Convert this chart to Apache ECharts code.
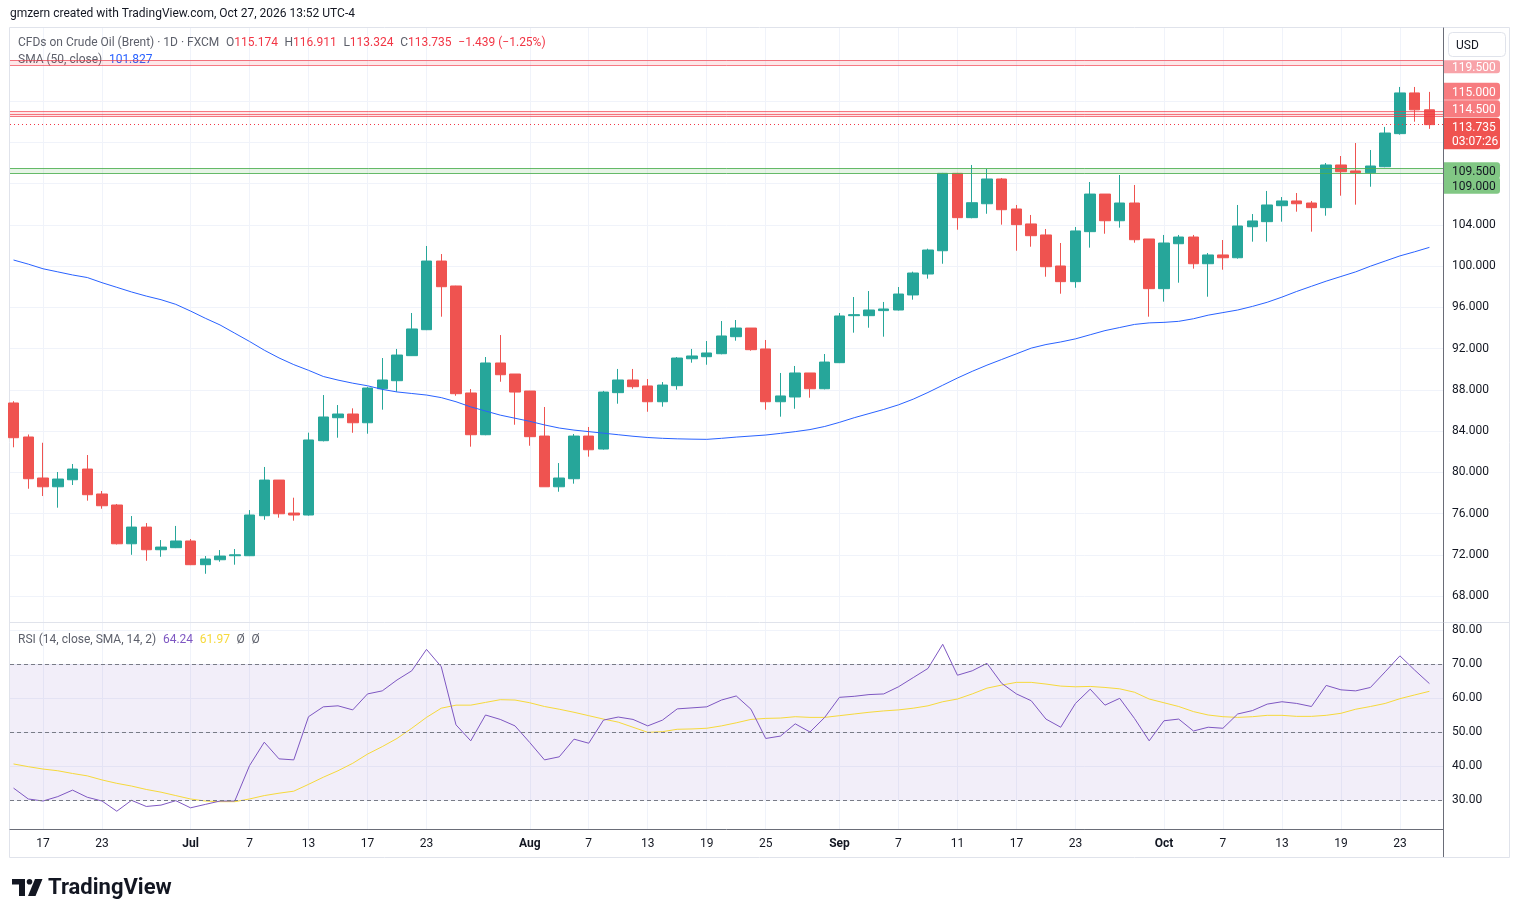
<!DOCTYPE html>
<html>
<head>
<meta charset="utf-8">
<title>CFDs on Crude Oil (Brent) · 1D · FXCM</title>
<script src="https://cdn.jsdelivr.net/npm/echarts@6/dist/echarts.min.js"></script>
<style>
  html, body { margin: 0; padding: 0; background: #ffffff; }
  #chart { width: 1519px; height: 917px; }
</style>
</head>
<body>
<div id="chart"></div>
<script>
/* global echarts */

// daily bars, Jun 15 .. Oct 27 2026 (weekdays), index = bar number
const opens = [
  86.73, 83.43, 79.45, 78.60, 79.28, 80.32, 77.90, 76.83, 73.07, 74.69,
  72.49, 72.69, 73.34, 71.04, 71.52, 71.91, 71.91, 75.79, 79.25, 76.05,
  75.86, 83.07, 85.30, 85.66, 84.81, 88.11, 88.89, 91.32, 93.84, 100.50,
  98.08, 87.70, 83.65, 90.61, 89.54, 87.89, 83.52, 78.60, 79.38, 83.52,
  82.26, 87.73, 88.96, 88.38, 86.85, 88.41, 91.02, 91.22, 91.51, 93.16,
  94.00, 91.97, 86.85, 87.31, 89.64, 88.11, 90.64, 95.20, 95.20, 95.69,
  95.75, 97.21, 99.24, 101.50, 109.01, 104.71, 106.06, 108.46, 105.55, 104.10,
  103.03, 100.02, 98.50, 103.35, 107.00, 104.41, 106.13, 102.64, 97.82, 102.18,
  102.83, 100.24, 101.09, 100.82, 103.83, 104.32, 105.87, 106.33, 106.13, 105.68,
  109.82, 109.24, 109.07, 109.65, 112.86, 116.81, 115.174
];
const closes = [
  83.36, 79.38, 78.60, 79.35, 80.32, 77.83, 76.76, 73.07, 74.69, 72.49,
  72.75, 73.34, 71.04, 71.59, 71.88, 72.00, 75.86, 79.25, 75.98, 75.86,
  83.14, 85.37, 85.66, 84.81, 88.18, 88.96, 91.38, 93.91, 100.50, 98.01,
  87.63, 83.65, 90.61, 89.47, 87.79, 83.46, 78.60, 79.45, 83.52, 82.19,
  87.79, 88.96, 88.31, 86.85, 88.47, 91.09, 91.29, 91.58, 93.23, 94.00,
  91.90, 86.85, 87.41, 89.64, 88.11, 90.70, 95.17, 95.30, 95.75, 95.85,
  97.30, 99.34, 101.57, 109.01, 104.71, 106.16, 108.46, 105.48, 104.03, 102.96,
  99.95, 98.50, 103.42, 107.00, 104.41, 106.13, 102.57, 97.82, 102.25, 102.83,
  100.24, 101.09, 100.82, 103.90, 104.39, 105.94, 106.33, 106.06, 105.68, 109.82,
  109.17, 109.07, 109.72, 112.92, 116.81, 115.17, 113.735
];
const lows = [
  82.43, 78.41, 77.70, 76.57, 78.77, 77.25, 76.47, 73.00, 72.00, 71.42,
  71.81, 72.65, 71.00, 70.16, 71.33, 71.04, 71.88, 75.40, 75.60, 75.31,
  75.80, 83.00, 83.36, 83.84, 83.75, 86.08, 87.82, 91.30, 93.80, 95.10,
  87.43, 82.49, 83.60, 88.79, 84.62, 82.58, 78.60, 78.12, 78.90, 81.52,
  82.20, 86.66, 88.11, 85.88, 86.37, 88.02, 90.64, 90.44, 91.45, 92.77,
  91.80, 86.08, 85.40, 86.17, 87.24, 88.05, 90.60, 93.55, 94.03, 93.16,
  95.70, 96.75, 98.79, 100.24, 103.54, 104.65, 105.09, 104.03, 101.50, 101.89,
  98.98, 97.33, 97.91, 101.80, 103.15, 103.74, 102.28, 95.10, 96.56, 98.40,
  99.76, 97.04, 99.66, 100.73, 102.38, 102.38, 104.32, 105.29, 103.35, 104.90,
  106.84, 105.97, 107.71, 109.60, 112.76, 114.02, 113.324
];
const highs = [
  86.90, 83.67, 82.87, 80.03, 80.81, 81.68, 78.19, 76.93, 75.76, 75.08,
  73.43, 74.80, 73.53, 71.88, 72.46, 72.56, 76.34, 80.52, 79.25, 77.54,
  83.85, 87.50, 86.53, 86.21, 88.30, 91.09, 91.97, 95.46, 101.96, 101.18,
  98.10, 88.08, 91.19, 93.32, 89.54, 87.90, 86.34, 80.90, 83.72, 84.40,
  87.90, 90.03, 90.03, 89.05, 88.76, 91.19, 91.97, 92.74, 94.68, 94.78,
  94.00, 92.84, 89.64, 90.32, 89.64, 91.48, 95.46, 97.01, 97.59, 96.53,
  97.98, 99.47, 101.70, 109.05, 109.05, 109.82, 109.43, 108.56, 105.94, 104.97,
  103.61, 102.25, 103.80, 108.17, 107.00, 108.85, 107.88, 102.64, 103.03, 103.03,
  103.03, 101.28, 102.54, 105.94, 105.06, 107.30, 106.71, 107.10, 106.33, 110.01,
  110.69, 111.95, 111.27, 113.51, 117.39, 117.39, 116.911
];
const sma50 = [
  100.60, 100.20, 99.75, 99.45, 99.15, 98.90, 98.40, 97.95, 97.50, 97.10,
  96.75, 96.30, 95.65, 94.95, 94.30, 93.50, 92.70, 91.85, 91.10, 90.45,
  89.90, 89.30, 88.95, 88.65, 88.40, 88.05, 87.80, 87.65, 87.50, 87.25,
  86.85, 86.35, 85.95, 85.55, 85.25, 84.95, 84.60, 84.30, 84.10, 83.95,
  83.80, 83.65, 83.50, 83.38, 83.30, 83.25, 83.22, 83.20, 83.30, 83.42,
  83.52, 83.62, 83.78, 83.95, 84.15, 84.45, 84.85, 85.30, 85.70, 86.10,
  86.55, 87.10, 87.75, 88.45, 89.15, 89.80, 90.40, 90.95, 91.50, 92.05,
  92.40, 92.65, 92.95, 93.35, 93.75, 94.05, 94.35, 94.50, 94.55, 94.65,
  94.90, 95.25, 95.50, 95.75, 96.10, 96.50, 97.00, 97.55, 98.05, 98.55,
  99.00, 99.45, 100.00, 100.50, 101.00, 101.40, 101.827
];
const rsi = [
  33.5, 30.3, 29.7, 31.0, 32.9, 30.8, 29.7, 26.7, 29.9, 28.1,
  28.5, 29.8, 27.7, 28.7, 29.7, 29.7, 40.1, 47.0, 42.1, 41.8,
  54.5, 57.4, 57.7, 56.5, 61.2, 62.1, 65.3, 68.0, 74.3, 69.2,
  52.1, 47.4, 55.0, 53.7, 51.8, 46.9, 41.8, 42.7, 47.9, 46.7,
  53.5, 54.4, 53.7, 51.8, 53.5, 56.8, 57.1, 57.4, 59.4, 60.6,
  56.7, 48.1, 48.8, 52.4, 50.0, 54.3, 60.2, 60.5, 61.0, 61.2,
  63.3, 66.0, 68.7, 75.8, 66.7, 68.0, 70.2, 64.3, 61.2, 59.2,
  53.8, 51.4, 58.4, 62.6, 57.9, 59.9, 54.0, 47.4, 53.3, 53.8,
  50.3, 51.4, 51.1, 55.3, 56.3, 58.2, 58.9, 58.4, 57.5, 63.7,
  62.4, 62.1, 63.1, 67.7, 72.4, 68.2, 64.24
];
const rsiMa = [
  40.6, 39.8, 39.1, 38.6, 37.8, 37.1, 35.9, 34.9, 34.1, 33.1,
  32.3, 31.3, 30.3, 29.7, 29.5, 29.5, 30.3, 31.3, 32.0, 32.6,
  34.6, 36.7, 38.6, 40.8, 43.5, 45.7, 48.1, 51.1, 54.3, 57.0,
  57.9, 57.9, 58.7, 59.5, 59.4, 58.6, 57.5, 56.7, 55.8, 54.8,
  53.8, 52.9, 51.4, 49.9, 50.1, 50.8, 50.9, 51.1, 51.8, 52.7,
  53.7, 54.0, 54.1, 54.5, 54.3, 54.3, 54.8, 55.3, 55.8, 56.2,
  56.5, 57.0, 57.7, 58.9, 59.7, 61.2, 62.9, 63.8, 64.6, 64.6,
  64.1, 63.5, 63.3, 63.4, 63.1, 62.7, 61.7, 59.7, 58.6, 57.5,
  56.0, 55.0, 54.5, 54.3, 54.5, 54.9, 54.9, 54.6, 54.6, 54.9,
  55.5, 56.7, 57.5, 58.4, 59.8, 60.9, 61.97
];

const tickIndex = [2, 6, 12, 16, 20, 24, 28, 35, 39, 43, 47, 51, 56, 60, 64, 68, 72, 78, 82, 86, 90, 94];
const tickLabels = ["17", "23", "Jul", "7", "13", "17", "23", "Aug", "7", "13", "19", "25", "Sep", "7", "11", "17", "23", "Oct", "7", "13", "19", "23"];
const priceTicks = [68, 72, 76, 80, 84, 88, 92, 96, 100, 104, 108, 112, 116, 120];
const priceLabelTicks = [68, 72, 76, 80, 84, 88, 92, 96, 100, 104];
const rsiTicks = [30, 40, 50, 60, 70, 80];
const rsiLevels = [70, 50, 30];

const upperZone = [119.5, 120];
const middleZone = [114.5, 114.75, 115];
const supportZone = [109, 109.5];
const lastPrice = 113.735;
const countdown = "03:07:26";

const FONT = "Roboto, 'Noto Sans', sans-serif";
const UP = "#26A69A";
const DOWN = "#EF5350";
const GRID_LINE = "#F0F3FA";
const AXIS_LINE = "#6A6D78";
const TEXT = "#131722";
const MUTED = "#5D606B";
const YELLOW = "#F6D93B";

const chart = echarts.init(document.getElementById("chart"), null, { renderer: "canvas" });

function levelLines(values, color) {
  return values.map((v) => ({ yAxis: v, lineStyle: { color, width: 1, type: "solid" } }));
}

function xAxisFor(gridIndex, showLabels) {
  return {
    type: "value",
    gridIndex,
    min: -0.24,
    max: 96.92,
    axisLine: { show: showLabels, onZero: false, lineStyle: { color: AXIS_LINE } },
    axisTick: { show: false, customValues: tickIndex },
    axisLabel: {
      show: showLabels,
      customValues: tickIndex,
      color: TEXT,
      fontSize: 12,
      fontFamily: FONT,
      margin: 9,
      formatter: (value) => {
        const label = tickLabels[tickIndex.indexOf(Math.round(value))] || "";
        return /^[A-Z]/.test(label) ? `{m|${label}}` : label;
      },
      rich: { m: { fontWeight: "bold", color: TEXT, fontSize: 12, fontFamily: FONT } },
    },
    splitLine: { show: true, lineStyle: { color: GRID_LINE } },
  };
}

function priceAxisLabel(customValues, digits) {
  return {
    customValues,
    color: TEXT,
    fontSize: 12,
    fontFamily: FONT,
    margin: 9,
    padding: [4, 0, 0, 0],
    formatter: (v) => v.toFixed(digits),
  };
}

const candleData = opens.map((o, i) => [i, o, closes[i], lows[i], highs[i]]);

const option = {
  animation: false,
  backgroundColor: "#ffffff",
  textStyle: { fontFamily: FONT },
  grid: [
    { left: 10, right: 76, top: 28, height: 594 },
    { left: 10, right: 76, top: 623, height: 206 },
  ],
  xAxis: [xAxisFor(0, false), xAxisFor(1, true)],
  yAxis: [
    {
      type: "value",
      gridIndex: 0,
      position: "right",
      min: 65.48,
      max: 123.11,
      axisLine: { show: true, onZero: false, lineStyle: { color: AXIS_LINE } },
      axisTick: { show: false, customValues: priceTicks },
      axisLabel: priceAxisLabel(priceLabelTicks, 3),
      splitLine: { show: true, lineStyle: { color: GRID_LINE } },
    },
    {
      type: "value",
      gridIndex: 1,
      position: "right",
      min: 21.47,
      max: 82.06,
      axisLine: { show: true, onZero: false, lineStyle: { color: AXIS_LINE } },
      axisTick: { show: false, customValues: rsiTicks },
      axisLabel: priceAxisLabel(rsiTicks, 2),
      splitLine: { show: true, lineStyle: { color: GRID_LINE } },
    },
  ],
  series: [
    {
      name: "Brent",
      type: "candlestick",
      xAxisIndex: 0,
      yAxisIndex: 0,
      data: candleData,
      encode: { x: 0, y: [1, 2, 3, 4] },
      barWidth: 11,
      itemStyle: {
        color: UP,
        color0: DOWN,
        borderColor: UP,
        borderColor0: DOWN,
        borderWidth: 1,
      },
      markArea: {
        silent: true,
        data: [
          [{ yAxis: upperZone[0], itemStyle: { color: "rgba(242,54,69,0.12)" } }, { yAxis: upperZone[1] }],
          [{ yAxis: middleZone[0], itemStyle: { color: "rgba(242,54,69,0.12)" } }, { yAxis: middleZone[2] }],
          [{ yAxis: supportZone[0], itemStyle: { color: "rgba(76,175,80,0.14)" } }, { yAxis: supportZone[1] }],
        ],
      },
      markLine: {
        silent: true,
        symbol: ["none", "none"],
        label: { show: false },
        data: [
          ...levelLines(upperZone, "rgba(242,54,69,0.65)"),
          ...levelLines(middleZone, "rgba(242,54,69,0.65)"),
          ...levelLines(supportZone, "rgba(76,175,80,0.85)"),
          { yAxis: lastPrice, lineStyle: { color: "#F23645", width: 1, type: [1, 3] } },
        ],
      },
    },
    {
      name: "SMA (50, close)",
      type: "line",
      xAxisIndex: 0,
      yAxisIndex: 0,
      data: sma50.map((v, i) => [i, v]),
      showSymbol: false,
      lineStyle: { color: "#2962FF", width: 1 },
      z: 3,
    },
    {
      name: "RSI",
      type: "line",
      xAxisIndex: 1,
      yAxisIndex: 1,
      data: rsi.map((v, i) => [i, v]),
      showSymbol: false,
      lineStyle: { color: "#7E57C2", width: 1 },
      z: 4,
      markArea: {
        silent: true,
        data: [[{ yAxis: 30, itemStyle: { color: "rgba(126,87,194,0.1)" } }, { yAxis: 70 }]],
      },
      markLine: {
        silent: true,
        symbol: ["none", "none"],
        label: { show: false },
        lineStyle: { color: "#787B86", width: 1, type: [4, 3] },
        data: rsiLevels.map((v) => ({ yAxis: v })),
      },
    },
    {
      name: "RSI-based MA",
      type: "line",
      xAxisIndex: 1,
      yAxisIndex: 1,
      data: rsiMa.map((v, i) => [i, v]),
      showSymbol: false,
      lineStyle: { color: YELLOW, width: 1 },
      z: 3,
    },
  ],
};

chart.setOption(option);

function priceY(value) {
  return chart.convertToPixel({ yAxisIndex: 0 }, value);
}

function buildTag(value, text, fill, color, shift, height, lineHeight) {
  const y = priceY(value) + shift;
  return {
    type: "group",
    z: 100,
    children: [
      {
        type: "rect",
        shape: { x: 1444, y: y - height / 2, width: 56, height, r: [0, 3, 3, 0] },
        style: { fill },
      },
      {
        type: "text",
        x: 1452,
        y: y + 1.5,
        style: {
          text,
          fill: color,
          font: `12px ${FONT}`,
          verticalAlign: "middle",
          lineHeight: lineHeight || 14,
        },
      },
    ],
  };
}

const legendRich = {
  g: { fill: MUTED, font: `12px ${FONT}` },
  r: { fill: "#F23645", font: `12px ${FONT}` },
  b: { fill: "#2962FF", font: `12px ${FONT}` },
  p: { fill: "#7E57C2", font: `12px ${FONT}` },
  y: { fill: YELLOW, font: `12px ${FONT}` },
};

const o = opens[opens.length - 1];
const c = closes[closes.length - 1];
const change = c - o;
const sign = change < 0 ? "\u2212" : "+";
const changeText = `${sign}${Math.abs(change).toFixed(3)} (${sign}${Math.abs((change / o) * 100).toFixed(2)}%)`;

const graphics = [
  {
    type: "text",
    x: 10,
    y: 14,
    style: { text: "gmzern created with TradingView.com, Oct 27, 2026 13:52 UTC-4", fill: TEXT, font: `12px ${FONT}`, verticalAlign: "middle" },
  },
  {
    type: "rect",
    z: -1,
    shape: { x: 9.5, y: 27.5, width: 1500, height: 830 },
    style: { fill: "none", stroke: "#E0E3EB", lineWidth: 1 },
  },
  {
    type: "line",
    shape: { x1: 10, y1: 622.5, x2: 1509, y2: 622.5 },
    style: { stroke: "#E0E3EB", lineWidth: 1 },
  },
  {
    type: "line",
    shape: { x1: 1443.5, y1: 829, x2: 1443.5, y2: 857 },
    style: { stroke: AXIS_LINE, lineWidth: 1 },
  },
  {
    type: "text",
    x: 18,
    y: 43,
    style: {
      text: `{g|CFDs on Crude Oil (Brent) \u00b7 1D \u00b7 FXCM}  {g|O}{r|${o.toFixed(3)}}  {g|H}{r|${highs[highs.length - 1].toFixed(3)}}  {g|L}{r|${lows[lows.length - 1].toFixed(3)}}  {g|C}{r|${c.toFixed(3)}}  {r|${changeText}}`,
      rich: legendRich,
      verticalAlign: "middle",
    },
  },
  {
    type: "text",
    x: 18,
    y: 60,
    style: {
      text: `{g|SMA (50, close)}  {b|${sma50[sma50.length - 1].toFixed(3)}}`,
      rich: legendRich,
      verticalAlign: "middle",
    },
  },
  {
    type: "text",
    x: 18,
    y: 640,
    style: {
      text: `{g|RSI (14, close, SMA, 14, 2)}  {p|${rsi[rsi.length - 1].toFixed(2)}}  {y|${rsiMa[rsiMa.length - 1].toFixed(2)}}  {g|\u00D8}  {g|\u00D8}`,
      rich: legendRich,
      verticalAlign: "middle",
    },
  },
  {
    type: "group",
    children: [
      {
        type: "rect",
        shape: { x: 1448.5, y: 32.5, width: 57, height: 24, r: 4 },
        style: { fill: "#ffffff", stroke: "#E0E3EB", lineWidth: 1 },
      },
      {
        type: "text",
        x: 1456,
        y: 46,
        style: { text: "USD", fill: TEXT, font: `12px ${FONT}`, verticalAlign: "middle" },
      },
    ],
  },
  buildTag(upperZone[0], "119.500", "#F8A3A9", "#ffffff", 1.5, 13),
  buildTag(middleZone[2], "115.000", "#F77C80", "#ffffff", -20.3, 17),
  buildTag(middleZone[0], "114.500", "#F77C80", "#ffffff", -8.1, 17),
  buildTag(lastPrice, `${lastPrice.toFixed(3)}\n${countdown}`, "#EF5350", "#ffffff", 8.9, 31.4, 13.3),
  buildTag(supportZone[1], "109.500", "#81C784", TEXT, 2.2, 16.7),
  buildTag(supportZone[0], "109.000", "#81C784", TEXT, 12, 16.7),
  {
    type: "group",
    children: [
      {
        type: "polygon",
        shape: { points: [[12, 879], [25, 879], [25, 896], [19, 896], [19, 884.5], [12, 884.5]] },
        style: { fill: TEXT },
      },
      { type: "circle", shape: { cx: 29.5, cy: 881.8, r: 2.8 }, style: { fill: TEXT } },
      {
        type: "polygon",
        shape: { points: [[35, 879], [42.5, 879], [35.5, 896], [28, 896]] },
        style: { fill: TEXT },
      },
      {
        type: "text",
        x: 48,
        y: 888.5,
        style: { text: "TradingView", fill: TEXT, font: `bold 22px ${FONT}`, verticalAlign: "middle" },
      },
    ],
  },
];

chart.setOption({ graphic: graphics });
</script>
</body>
</html>
